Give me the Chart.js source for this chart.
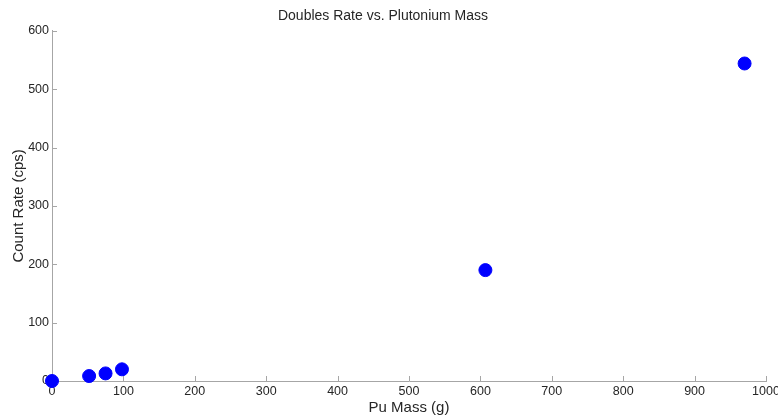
<!DOCTYPE html>
<html>
<head>
<meta charset="utf-8">
<script src="https://cdn.jsdelivr.net/npm/chart.js@4"></script>
<style>
  html, body { margin: 0; padding: 0; background: #fff; }
  #wrap { width: 778px; height: 418px; }
</style>
</head>
<body>
<div id="wrap"><canvas id="chart"></canvas></div>
<script>
// Pu mass (g) and doubles count rate (cps)
const puMass = [0, 52, 75, 98, 607, 970];
const countRate = [0, 8.5, 13, 20, 190, 544];
const xTicks = [0, 100, 200, 300, 400, 500, 600, 700, 800, 900, 1000];
const yTicks = [0, 100, 200, 300, 400, 500, 600];

const axisColor = '#a6a6a6';
const textColor = '#262626';
const fontFamily = '"Liberation Sans", Arial, sans-serif';

// MATLAB style ticks point into the plot area
const innerTicks = {
    id: 'innerTicks',
    beforeDatasetsDraw(chart) {
        const ctx = chart.ctx;
        const x = chart.scales.x, y = chart.scales.y;
        ctx.save();
        ctx.strokeStyle = axisColor;
        ctx.lineWidth = 1;
        ctx.beginPath();
        xTicks.forEach(v => {
            const px = Math.round(x.getPixelForValue(v)) + 0.5;
            ctx.moveTo(px, y.bottom);
            ctx.lineTo(px, y.bottom - 5);
        });
        yTicks.forEach(v => {
            const py = Math.round(y.getPixelForValue(v)) + 0.5;
            ctx.moveTo(x.left, py);
            ctx.lineTo(x.left + 5, py);
        });
        ctx.stroke();
        ctx.restore();
    }
};

const data = {
    datasets: [{
        label: 'Doubles',
        data: puMass.map((m, i) => ({ x: m, y: countRate[i] })),
        backgroundColor: '#0000ff',
        borderColor: '#0000ff',
        pointRadius: 6.5,
        pointHoverRadius: 6.5,
        showLine: false,
        clip: false
    }]
};

new Chart(document.getElementById('chart').getContext('2d'), {
    type: 'scatter',
    data: data,
    options: {
        responsive: true,
        maintainAspectRatio: false,
        animation: false,
        layout: { padding: { left: 0, right: 12, top: 0, bottom: 0 } },
        plugins: {
            legend: { display: false },
            tooltip: { enabled: false },
            title: {
                display: true,
                text: 'Doubles Rate vs. Plutonium Mass',
                color: textColor,
                font: { family: fontFamily, size: 14, weight: 'normal' },
                padding: { top: 8, bottom: 6 }
            }
        },
        scales: {
            x: {
                type: 'linear',
                min: 0,
                max: 1000,
                afterBuildTicks: s => { s.ticks = xTicks.map(v => ({ value: v })); },
                afterFit: s => { s.height = 37; s.paddingRight = 0; s.paddingLeft = 0; },
                grid: { display: false, drawTicks: false },
                border: { display: true, color: axisColor, width: 1 },
                ticks: {
                    color: textColor,
                    padding: 3,
                    maxRotation: 0,
                    font: { family: fontFamily, size: 12.5 },
                    callback: v => String(v)
                },
                title: {
                    display: true,
                    text: 'Pu Mass (g)',
                    color: textColor,
                    font: { family: fontFamily, size: 15 },
                    padding: { top: 0, bottom: 1 }
                }
            },
            y: {
                type: 'linear',
                min: 0,
                max: 600,
                afterBuildTicks: s => { s.ticks = yTicks.map(v => ({ value: v })); },
                afterFit: s => { s.width = 52; },
                grid: { display: false, drawTicks: false },
                border: { display: true, color: axisColor, width: 1 },
                ticks: {
                    color: textColor,
                    padding: 3,
                    font: { family: fontFamily, size: 12.5 },
                    callback: v => String(v)
                },
                title: {
                    display: true,
                    text: 'Count Rate (cps)',
                    color: textColor,
                    font: { family: fontFamily, size: 15 },
                    padding: { top: 10, bottom: 0 }
                }
            }
        }
    },
    plugins: [innerTicks]
});
</script>
</body>
</html>
